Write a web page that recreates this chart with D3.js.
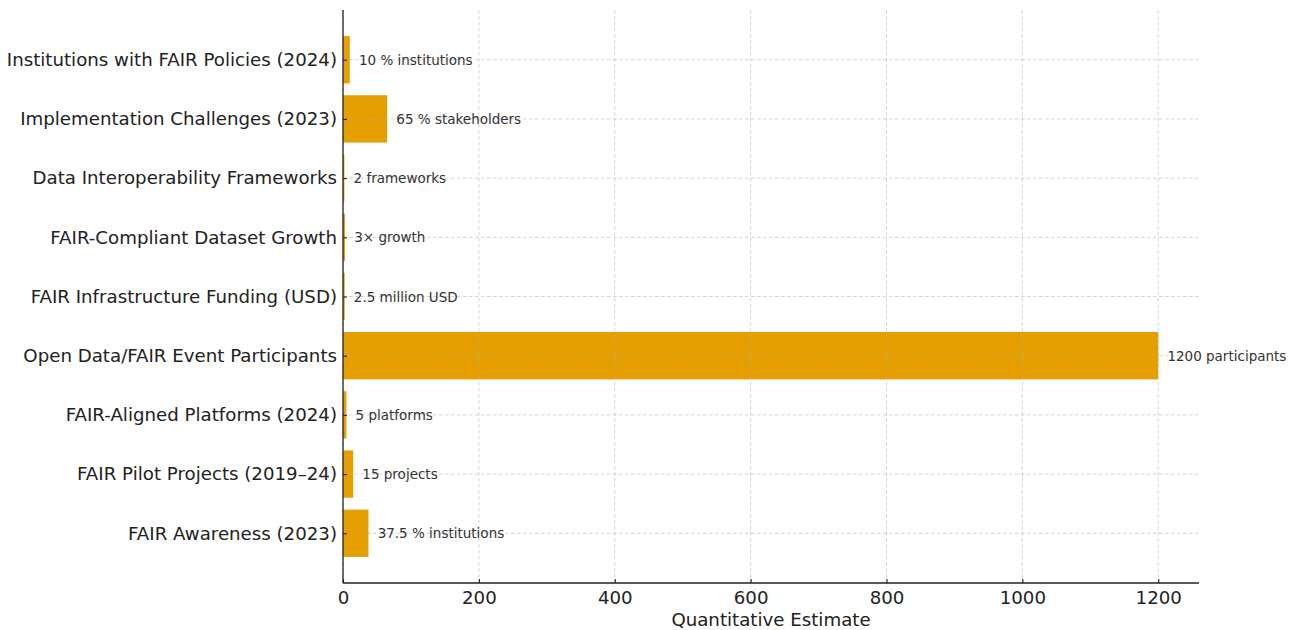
<!DOCTYPE html>
<html>
<head>
<meta charset="utf-8">
<script src="https://cdn.jsdelivr.net/npm/d3@7"></script>
<style>
html,body{margin:0;padding:0;background:#fff;}
svg{display:block;font-family:"DejaVu Sans",sans-serif;}
</style>
</head>
<body>
<svg id="chart" width="1295" height="630"></svg>
<script>
const categories = [
  "FAIR Awareness (2023)",
  "FAIR Pilot Projects (2019–24)",
  "FAIR-Aligned Platforms (2024)",
  "Open Data/FAIR Event Participants",
  "FAIR Infrastructure Funding (USD)",
  "FAIR-Compliant Dataset Growth",
  "Data Interoperability Frameworks",
  "Implementation Challenges (2023)",
  "Institutions with FAIR Policies (2024)"
];
const values = [37.5, 15, 5, 1200, 2.5, 3, 2, 65, 10];
const valueLabels = [
  "37.5 % institutions",
  "15 projects",
  "5 platforms",
  "1200 participants",
  "2.5 million USD",
  "3× growth",
  "2 frameworks",
  "65 % stakeholders",
  "10 % institutions"
];
const xTicks = [0, 200, 400, 600, 800, 1000, 1200];
const xTitle = "Quantitative Estimate";

const svg = d3.select("#chart");
const margin = {left: 343, right: 96, top: 10, bottom: 47};
const W = 1295, H = 630;
const plotW = W - margin.left - margin.right;
const plotH = H - margin.top - margin.bottom;

const g = svg.append("g").attr("transform", `translate(${margin.left},${margin.top})`);

const x = d3.scaleLinear().domain([0, 1260]).range([0, plotW]);
const y = d3.scaleLinear().domain([-0.84, categories.length - 1 + 0.84]).range([plotH, 0]);
const barH = y(0) - y(0.8);

// bars
g.selectAll("rect.bar").data(values).join("rect")
  .attr("class", "bar")
  .attr("x", x(0))
  .attr("y", (d, i) => y(i) - barH / 2)
  .attr("width", d => x(d) - x(0))
  .attr("height", barH)
  .attr("fill", "#E69F00");

// grid (drawn on top)
const grid = g.append("g").attr("class", "grid");
grid.selectAll("line.v").data(xTicks).join("line")
  .attr("x1", d => x(d)).attr("x2", d => x(d))
  .attr("y1", 0).attr("y2", plotH)
  .attr("stroke", "#b0b0b0").attr("stroke-opacity", 0.7)
  .attr("stroke-width", 0.8).attr("stroke-dasharray", "3.5,2.5");
grid.selectAll("line.h").data(categories).join("line")
  .attr("x1", 0).attr("x2", plotW)
  .attr("y1", (d, i) => y(i)).attr("y2", (d, i) => y(i))
  .attr("stroke", "#b0b0b0").attr("stroke-opacity", 0.7)
  .attr("stroke-width", 0.8).attr("stroke-dasharray", "3.5,2.5");

// value labels
g.selectAll("text.vl").data(values).join("text")
  .attr("class", "vl")
  .attr("x", d => x(d + 12) + 1)
  .attr("y", (d, i) => y(i))
  .attr("dominant-baseline", "central")
  .attr("font-size", 13.5)
  .attr("fill", "#333")
  .text((d, i) => valueLabels[i]);

// x axis
const xAxis = g.append("g").attr("transform", `translate(0,${plotH})`)
  .call(d3.axisBottom(x).tickValues(xTicks).tickFormat(d3.format("d")).tickSizeInner(-4).tickSizeOuter(0).tickPadding(8));
xAxis.select(".domain").attr("stroke", "#222").attr("stroke-width", 1.3)
  .attr("d", `M0,0H${plotW}`);
xAxis.selectAll(".tick line").attr("stroke", "#222").attr("stroke-width", 1.1);
xAxis.selectAll(".tick text").attr("font-size", 18.2).attr("fill", "#222")
  .attr("font-family", "DejaVu Sans").attr("dy", "0.71em").attr("y", 8);

// y axis
const yAxis = g.append("g")
  .call(d3.axisLeft(y).tickValues(d3.range(categories.length)).tickFormat(i => categories[i]).tickSizeInner(-4).tickSizeOuter(0).tickPadding(6));
yAxis.select(".domain").attr("stroke", "#222").attr("stroke-width", 1.3)
  .attr("d", `M0,0V${plotH}`);
yAxis.selectAll(".tick line").attr("stroke", "#222").attr("stroke-width", 1.1);
yAxis.selectAll(".tick text").attr("font-size", 18.2).attr("fill", "#222")
  .attr("font-family", "DejaVu Sans").attr("x", -6);

// x title
svg.append("text")
  .attr("x", margin.left + plotW / 2)
  .attr("y", H - 4)
  .attr("text-anchor", "middle")
  .attr("font-size", 18.2)
  .attr("fill", "#222")
  .text(xTitle);
</script>
</body>
</html>
